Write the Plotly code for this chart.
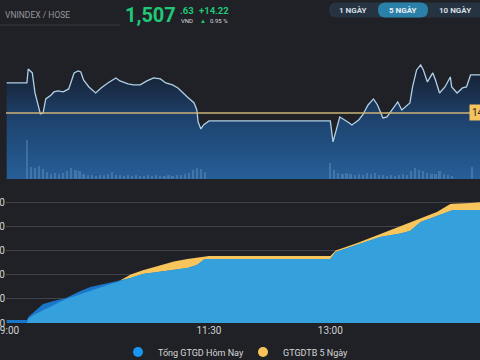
import plotly.graph_objects as go

# ---------------- DATA ----------------
price_times = ["09:00", "09:15", "09:16", "09:19", "09:21", "09:25", "09:27", "09:29", "09:33", "09:35",
               "09:38", "09:42", "09:46", "09:50", "09:53", "09:55", "09:57", "10:01", "10:06", "10:10",
               "10:15", "10:21", "10:24", "10:30", "10:34", "10:39", "10:44", "10:49", "10:54", "10:58",
               "11:03", "11:07", "11:14", "11:19", "11:21", "11:22", "11:24", "11:26", "11:30",
               "13:00", "13:02", "13:07", "13:13", "13:16", "13:21", "13:24", "13:28", "13:32", "13:35",
               "13:39", "13:42", "13:46", "13:50", "13:53", "13:57", "13:59", "14:01", "14:04", "14:07",
               "14:09", "14:12", "14:16", "14:18", "14:21", "14:25", "14:29", "14:30", "14:34", "14:38",
               "14:41", "14:44", "15:00"]
price_values = [1504.64, 1504.64, 1509.87, 1508.38, 1500.89, 1493.04, 1493.41, 1498.65, 1500.15, 1501.27,
                1501.64, 1501.27, 1502.39, 1508.38, 1509.13, 1508.75, 1505.76, 1503.14, 1500.89, 1502.77,
                1504.64, 1506.51, 1505.38, 1504.26, 1503.89, 1503.89, 1505.38, 1506.51, 1506.13, 1504.64,
                1503.89, 1502.77, 1499.40, 1497.15, 1494.53, 1490.04, 1487.42, 1488.92, 1490.42,
                1490.42, 1482.56, 1491.91, 1490.04, 1488.92, 1490.79, 1492.66, 1496.40, 1498.65, 1496.40,
                1491.54, 1491.91, 1494.53, 1497.53, 1494.53, 1496.40, 1497.15, 1503.14, 1509.50, 1511.37,
                1509.50, 1505.01, 1508.38, 1505.76, 1500.89, 1503.14, 1506.88, 1503.14, 1500.89, 1502.77,
                1503.14, 1507.63, 1507.63]
ref_price = 1493.41
last_price = "1,507"
last_decimals = ".63"
change_pts = "+14.22"
change_pct = "0.95 %"

vol_times = ["09:15", "09:18", "09:21", "09:24", "09:27", "09:30", "09:33", "09:36", "09:39", "09:42",
             "09:45", "09:48", "09:51", "09:54", "09:57", "10:00", "10:03", "10:06", "10:09", "10:12",
             "10:15", "10:18", "10:21", "10:24", "10:27", "10:30", "10:33", "10:36", "10:39", "10:42",
             "10:45", "10:48", "10:51", "10:54", "10:57", "11:00", "11:03", "11:06", "11:09", "11:12",
             "11:15", "11:18", "11:21", "11:24", "11:27",
             "13:00", "13:03", "13:06", "13:09", "13:12", "13:15", "13:18", "13:21", "13:24", "13:27",
             "13:30", "13:33", "13:36", "13:39", "13:42", "13:45", "13:48", "13:51", "13:54", "13:57",
             "14:00", "14:03", "14:06", "14:09", "14:12", "14:15", "14:18", "14:21", "14:24", "14:27",
             "14:30", "14:45"]
vol_values = [19.5, 6, 5.5, 6.5, 5, 3.5, 2.5, 3, 2.5, 3,
              4, 5.5, 4.5, 4, 2.5, 2, 2, 1.5, 2, 2,
              2.5, 3.5, 2, 2, 1.5, 2, 1.5, 2, 1.5, 1.5,
              2, 1.5, 2, 1.5, 1.5, 2, 1.5, 2, 2, 2.5,
              3, 4.5, 5.5, 5, 3.5,
              8, 4.5, 3, 2.5, 3, 2.5, 2, 2.5, 2, 3,
              2.5, 3, 2, 2, 1.5, 2, 1.5, 2, 2.5, 2,
              4, 5.5, 4.5, 4, 3, 2.5, 2.5, 4, 2.5, 2,
              1.5, 6]

value_times = ["09:00", "09:15", "09:16", "09:20", "09:27", "09:35", "09:44", "09:53", "10:02", "10:12",
               "10:22", "10:32", "10:41", "10:52", "11:04", "11:14", "11:21", "11:27", "11:30", "13:00",
               "13:04", "13:20", "13:37", "13:52", "13:59", "14:07", "14:19", "14:29", "14:31", "14:44", "15:00"]
today_values = [620, 620, 1240, 2273, 3926, 4545, 5165, 6405, 7438, 8057,
                8677, 9297, 10123, 10537, 10950, 11363, 11983, 13222, 13222, 13222,
                14669, 16115, 17768, 18500, 19007, 20867, 22100, 23000, 23346, 23346, 23346]
avg5_values = [0, 0, 830, 1653, 2650, 3700, 4958, 5800, 6700, 7600,
               8470, 10000, 10900, 11800, 12700, 13222, 13429, 13750, 13842, 13842,
               15000, 16528, 18387, 20040, 20800, 21693, 22933, 24586, 24640, 24793, 25200]
value_ticks = [0, 5000, 10000, 15000, 20000, 25000]

time_ticks = ["09:00", "11:30", "13:00"]
series_names = ["Tổng GTGD Hôm Nay", "GTGDTB 5 Ngày"]
period_buttons = ["1 NGÀY", "5 NGÀY", "10 NGÀY"]

# ---------------- HELPERS ----------------
def tmin(s):
    h, m = s.split(":")
    return int(h) * 60 + int(m)

W, H, L = 480, 360, 6
def PX(x):
    return (x - L) / (W - L)
def PY(y):
    return 1 - y / H

def rrect(x0, y0, x1, y1, r):
    pts = [("M", x0 + r, y0), ("L", x1 - r, y0), ("Q", x1, y0, x1, y0 + r), ("L", x1, y1 - r),
           ("Q", x1, y1, x1 - r, y1), ("L", x0 + r, y1), ("Q", x0, y1, x0, y1 - r), ("L", x0, y0 + r),
           ("Q", x0, y0, x0 + r, y0)]
    out = ""
    for p in pts:
        if p[0] == "Q":
            out += f"Q{PX(p[1]):.5f},{PY(p[2]):.5f} {PX(p[3]):.5f},{PY(p[4]):.5f} "
        else:
            out += f"{p[0]}{PX(p[1]):.5f},{PY(p[2]):.5f} "
    return out + "Z"

BG = "#1f2126"
FONT = "Roboto"
X_RANGE = [tmin("09:00") - 0.5, tmin("14:51")]

pt = [tmin(t) for t in price_times]
vt = [tmin(t) for t in vol_times]
gt = [tmin(t) for t in value_times]
min_values = [min(a, b) for a, b in zip(today_values, avg5_values)]

fig = go.Figure()

# ---- upper chart: price area with gradient ----
fig.add_trace(go.Scatter(
    x=pt, y=price_values, xaxis="x2", yaxis="y2", mode="lines",
    line=dict(color="rgb(175,208,232)", width=1.3), fill="tozeroy",
    fillgradient=dict(type="vertical", start=1468.7, stop=1511.4,
                      colorscale=[[0, "rgb(38,95,152)"], [0.5, "rgb(30,68,112)"], [1, "rgb(22,28,42)"]]),
    showlegend=False, hoverinfo="skip"))
fig.add_trace(go.Scatter(
    x=[X_RANGE[0], X_RANGE[1] + 20], y=[ref_price, ref_price], xaxis="x2", yaxis="y2", mode="lines",
    line=dict(color="rgb(205,180,120)", width=1.5), showlegend=False, hoverinfo="skip"))
fig.add_trace(go.Bar(
    x=vt, y=vol_values, xaxis="x2", yaxis="y3", width=1.6,
    marker=dict(color="rgba(150,190,235,0.25)", line=dict(width=0)),
    showlegend=False, hoverinfo="skip"))

# ---- lower chart: cumulative values ----
fig.add_trace(go.Scatter(x=gt, y=avg5_values, mode="lines", line=dict(width=0, color="rgb(248,196,92)"),
                         fill="tozeroy", fillcolor="rgb(248,196,92)", showlegend=False, hoverinfo="skip"))
fig.add_trace(go.Scatter(x=gt, y=today_values, mode="lines", line=dict(width=0, color="rgb(26,118,200)"),
                         fill="tozeroy", fillcolor="rgb(26,118,200)", showlegend=False, hoverinfo="skip"))
fig.add_trace(go.Scatter(x=gt, y=min_values, mode="lines", line=dict(width=0, color="rgb(52,160,220)"),
                         fill="tozeroy", fillcolor="rgb(52,160,220)", showlegend=False, hoverinfo="skip"))
# legend entries
fig.add_trace(go.Scatter(x=[None], y=[None], mode="markers", name=series_names[0],
                         marker=dict(size=10, color="rgb(25,150,240)")))
fig.add_trace(go.Scatter(x=[None], y=[None], mode="markers", name=series_names[1],
                         marker=dict(size=10, color="rgb(250,195,90)")))

# ---------------- LAYOUT ----------------
shapes = [
    dict(type="line", xref="paper", yref="paper", x0=PX(0), x1=PX(120), y0=PY(25), y1=PY(25),
         line=dict(color="rgb(55,57,63)", width=1)),
    dict(type="path", xref="paper", yref="paper", path=rrect(329, 2.5, 520, 17.5, 7.5),
         fillcolor="rgb(38,52,66)", line=dict(width=0)),
    dict(type="path", xref="paper", yref="paper", path=rrect(378, 2.5, 428, 17.5, 7.5),
         fillcolor="rgb(42,128,168)", line=dict(width=0)),
]

ann = [
    dict(text="VNINDEX / HOSE", x=PX(3), y=PY(15), xanchor="left", yanchor="middle",
         font=dict(size=8.5, color="rgb(150,152,158)")),
    dict(text=f"<b>{last_price}</b>", x=PX(123), y=PY(15), xanchor="left", yanchor="middle",
         font=dict(size=20, color="rgb(32,200,120)")),
    dict(text=f"<b>{last_decimals}</b>", x=PX(178), y=PY(10), xanchor="left", yanchor="middle",
         font=dict(size=9.5, color="rgb(32,200,120)")),
    dict(text="VND", x=PX(179), y=PY(20), xanchor="left", yanchor="middle",
         font=dict(size=6, color="rgb(220,220,220)")),
    dict(text=f"<b>{change_pts}</b>", x=PX(197), y=PY(10), xanchor="left", yanchor="middle",
         font=dict(size=9.5, color="rgb(32,200,120)")),
    dict(text="▲", x=PX(198), y=PY(20), xanchor="left", yanchor="middle",
         font=dict(size=6, color="rgb(32,200,120)")),
    dict(text=change_pct, x=PX(208), y=PY(20), xanchor="left", yanchor="middle",
         font=dict(size=6, color="rgb(220,220,220)")),
    dict(text=f"<b>{period_buttons[0]}</b>", x=PX(353), y=PY(10), xanchor="center", yanchor="middle",
         font=dict(size=8, color="rgb(215,222,230)")),
    dict(text=f"<b>{period_buttons[1]}</b>", x=PX(403), y=PY(10), xanchor="center", yanchor="middle",
         font=dict(size=8, color="rgb(235,240,245)")),
    dict(text=f"<b>{period_buttons[2]}</b>", x=PX(455), y=PY(10), xanchor="center", yanchor="middle",
         font=dict(size=8, color="rgb(215,222,230)")),
    dict(text=f"{ref_price:.2f}", x=PX(469), y=ref_price, xref="paper", yref="y2",
         xanchor="left", yanchor="middle", bgcolor="rgb(245,196,94)", borderpad=2,
         font=dict(size=10, color="rgb(40,40,40)")),
]
for a in ann:
    a.setdefault("xref", "paper")
    a.setdefault("yref", "paper")
    a["showarrow"] = False

fig.update_layout(
    width=W, height=H, margin=dict(l=L, r=0, t=0, b=0, autoexpand=False),
    paper_bgcolor=BG, plot_bgcolor="rgba(0,0,0,0)",
    font=dict(family=FONT, color="rgb(210,210,210)"),
    shapes=shapes, annotations=ann, bargap=0,
    xaxis=dict(domain=[0, 1], range=X_RANGE, anchor="y", tickvals=[tmin(t) for t in time_ticks],
               ticktext=time_ticks, showgrid=False, zeroline=False, showline=False, ticks="",
               ticklabeloverflow="allow",
               tickfont=dict(size=10, color="rgb(210,210,210)"), automargin=False),
    yaxis=dict(domain=[PY(323), PY(197)], range=[0, 26033], tickvals=value_ticks,
               ticktext=[f"{v:,}" for v in value_ticks], showgrid=True, ticklabeloverflow="allow",
               gridcolor="rgb(64,67,74)", gridwidth=1, zeroline=False, showline=False,
               tickfont=dict(size=10, color="rgb(210,210,210)"), automargin=False),
    xaxis2=dict(domain=[0, 1], range=X_RANGE, anchor="y2", visible=False, automargin=False),
    yaxis2=dict(domain=[PY(179), PY(40)], range=[1468.7, 1520.7], visible=False, automargin=False),
    yaxis3=dict(overlaying="y2", range=[0, 69.5], visible=False, automargin=False),
    legend=dict(orientation="h", x=PX(118), xanchor="left", y=PY(352), yanchor="middle",
                font=dict(size=9, color="rgb(215,215,215)"), bgcolor="rgba(0,0,0,0)",
                itemwidth=30, tracegroupgap=0, entrywidth=80, entrywidthmode="pixels"),
)

fig.write_html("out.html",
               config={"displayModeBar": False, "staticPlot": True},
               post_script="document.body.style.margin='0';document.body.style.overflow='hidden';"
                           "document.body.style.background='#1f2126';")
